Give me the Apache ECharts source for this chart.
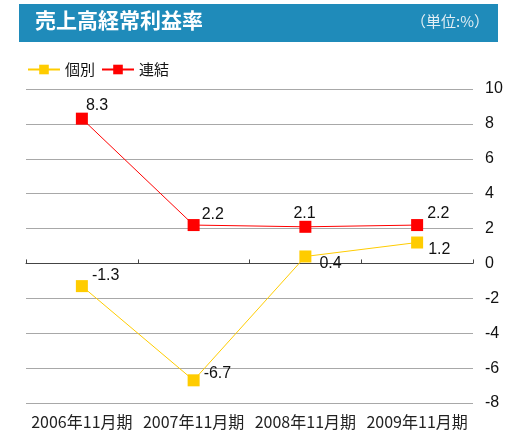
<!DOCTYPE html>
<html>
<head>
<meta charset="utf-8" />
<script src="https://cdn.jsdelivr.net/npm/echarts@6/dist/echarts.min.js"></script>
<style>
	html, body { margin: 0; padding: 0; background: #fff; }
	#chart { width: 512px; height: 435px; }
</style>
</head>
<body>
<div id="chart"></div>
<script>
	var categories = ["2006年11月期", "2007年11月期", "2008年11月期", "2009年11月期"];
	var kobetsu = [-1.3, -6.7, 0.4, 1.2];
	var renketsu = [8.3, 2.2, 2.1, 2.2];
	var yTicks = [-8, -6, -4, -2, 0, 2, 4, 6, 8, 10];

	// label offsets from the default 'right' position, per point
	var kobetsuOffset = [[4, -11], [4, -7], [8, 7], [5, 7]];
	var renketsuOffset = [[-2, -13], [2, -10], [-18, -13], [4, -11]];

	function makedata(values, offsets) {
		var arr = [];
		for (var i = 0; i < values.length; i++) {
			arr.push({
				value: values[i],
				label: { offset: offsets[i] }
			});
		}
		return arr;
	}

	var labelstyle = {
		show: true,
		position: 'right',
		distance: 0,
		fontFamily: 'Liberation Sans',
		fontSize: 16,
		color: '#111'
	};

	var chart = echarts.init(document.getElementById('chart'));
	var option = {
		animation: false,
		graphic: [
			{ type: 'rect', shape: { x: 19, y: 4, width: 479, height: 38 }, style: { fill: '#1F8BBA' } },
			{ type: 'text', left: 35, top: 10, style: { text: '売上高経常利益率', fill: '#fff', font: 'bold 21px "Noto Sans CJK JP"' } },
			{ type: 'text', right: 23, top: 14, style: { text: '（単位:%）', fill: '#E2EEF4', font: '15px "Noto Sans CJK JP"' } }
		],
		legend: {
			left: 22,
			top: 57,
			itemWidth: 32,
			itemHeight: 12,
			itemGap: 6,
			textStyle: { fontFamily: 'Noto Sans CJK JP', fontSize: 15, color: '#111' },
			data: ['個別', '連結']
		},
		grid: { left: 26, right: 39, top: 89, bottom: 32 },
		xAxis: [
			{
				// labels along the bottom
				type: 'category',
				data: categories,
				position: 'bottom',
				axisLine: { show: false, onZero: false },
				axisTick: { show: false },
				axisLabel: { interval: 0, margin: 11, fontFamily: 'Noto Sans CJK JP', fontSize: 16, color: '#222' }
			},
			{
				// axis line with ticks on zero
				type: 'category',
				data: categories,
				position: 'bottom',
				axisLine: { show: true, onZero: true, lineStyle: { color: '#444', width: 1 } },
				axisTick: { show: true, interval: 0, inside: true, length: 4, lineStyle: { color: '#444', width: 1 } },
				axisLabel: { show: false }
			}
		],
		yAxis: {
			type: 'value',
			position: 'right',
			min: yTicks[0],
			max: yTicks[yTicks.length - 1],
			interval: 2,
			axisLine: { show: false },
			axisTick: { show: false },
			axisLabel: { margin: 12, fontFamily: 'Liberation Sans', fontSize: 16, color: '#111' },
			splitLine: { lineStyle: { color: '#A8A8A8', width: 1 } }
		},
		series: [
			{
				name: '個別',
				type: 'line',
				xAxisIndex: 0,
				data: makedata(kobetsu, kobetsuOffset),
				symbol: 'rect',
				symbolSize: 12,
				itemStyle: { color: '#FFCC00' },
				lineStyle: { color: '#FFCC00', width: 1 },
				label: labelstyle,
				z: 3
			},
			{
				name: '連結',
				type: 'line',
				xAxisIndex: 0,
				data: makedata(renketsu, renketsuOffset),
				symbol: 'rect',
				symbolSize: 12,
				itemStyle: { color: '#FF0000' },
				lineStyle: { color: '#FF0000', width: 1 },
				label: labelstyle,
				z: 4
			}
		]
	};
	chart.setOption(option);
</script>
</body>
</html>
